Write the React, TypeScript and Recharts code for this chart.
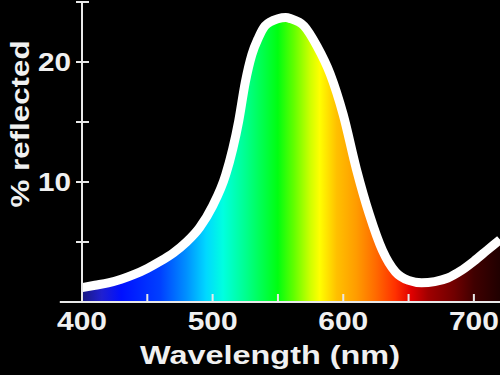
import { AreaChart, Area, XAxis, YAxis, ReferenceLine } from "recharts"

const wavelengths = [
    400, 410, 420, 430, 440, 450, 460, 470, 480, 490, 500, 510, 520, 525, 530, 535, 540, 550,
    556, 560, 570, 580, 590, 600, 610, 620, 630, 640, 650, 660, 670, 680, 690, 700, 710, 720,
]
const reflected = [
    1.2, 1.4, 1.6, 1.9, 2.3, 2.8, 3.4, 4.1, 5.0, 6.2, 8.0, 10.6, 15.1, 18.3, 20.6, 22.0, 23.0, 23.6,
    23.7, 23.6, 23.0, 21.3, 19.0, 15.6, 11.1, 7.3, 4.3, 2.5, 1.8, 1.6, 1.7, 2.0, 2.6, 3.4, 4.3, 5.2,
]
const xTicks = [400, 450, 500, 550, 600, 650, 700]
const yTicks = [5, 10, 15, 20, 25]
const xLabels = [400, 500, 600, 700]
const yLabels = [10, 20]

// spectrum colours keyed by wavelength
const spectrum: [number, string][] = [
    [400, "#1a1a80"],
    [415, "#2020d0"],
    [430, "#0010ff"],
    [460, "#0040ff"],
    [480, "#0090ff"],
    [495, "#00d8ff"],
    [508, "#00ffe0"],
    [525, "#00ff90"],
    [550, "#00ff10"],
    [562, "#60ff00"],
    [575, "#d0ff00"],
    [582, "#ffff00"],
    [595, "#ffc000"],
    [610, "#ff9c00"],
    [625, "#ff6a00"],
    [640, "#ff3000"],
    [652, "#e00000"],
    [665, "#a00000"],
    [685, "#700000"],
    [700, "#400000"],
    [720, "#200000"],
]

const data = wavelengths.map((nm, i) => ({ nm, value: reflected[i] }))

const FONT = "'Liberation Sans', Arial, sans-serif"
const AXIS = "#e8e8e8"

function XTick(props: any) {
    const { x, y, payload } = props
    const v = payload.value
    return (
        <g>
            <line x1={x} x2={x} y1={y - 8} y2={y} stroke={AXIS} strokeWidth={2} />
            {xLabels.includes(v) && (
                <text
                    x={x}
                    y={y + 28}
                    textAnchor="middle"
                    fill="#f0f0f0"
                    fontFamily={FONT}
                    fontWeight="bold"
                    fontSize={25}
                    textLength={50}
                    lengthAdjust="spacingAndGlyphs"
                >
                    {v}
                </text>
            )}
        </g>
    )
}

function YTick(props: any) {
    const { x, y, payload } = props
    const v = payload.value
    return (
        <g>
            <line x1={x - 6} x2={x + 7} y1={y} y2={y} stroke={AXIS} strokeWidth={2} />
            {yLabels.includes(v) && (
                <text
                    x={x - 11}
                    y={y + 9}
                    textAnchor="end"
                    fill="#f0f0f0"
                    fontFamily={FONT}
                    fontWeight="bold"
                    fontSize={25}
                    textLength={33}
                    lengthAdjust="spacingAndGlyphs"
                >
                    {v}
                </text>
            )}
        </g>
    )
}

export default function App() {
    return (
        <div style={{ position: "fixed", left: 0, top: 0, width: 500, height: 375, background: "#000" }}>
            <AreaChart width={500} height={375} data={data} margin={{ top: 2, right: 0, left: 0, bottom: 0 }}>
                <defs>
                    <linearGradient id="spec" x1="0" y1="0" x2="1" y2="0">
                        {spectrum.map(([nm, c]) => (
                            <stop key={nm} offset={(nm - 400) / 320} stopColor={c} />
                        ))}
                    </linearGradient>
                </defs>
                <XAxis
                    dataKey="nm"
                    type="number"
                    domain={[400, 720]}
                    ticks={xTicks}
                    height={73}
                    axisLine={false}
                    tickLine={false}
                    tickSize={0}
                    tickMargin={0}
                    tick={<XTick />}
                    interval={0}
                />
                <YAxis
                    type="number"
                    domain={[0, 25]}
                    ticks={yTicks}
                    width={82}
                    axisLine={{ stroke: AXIS, strokeWidth: 2 }}
                    tickLine={false}
                    tickSize={0}
                    tickMargin={0}
                    tick={<YTick />}
                    interval={0}
                />
                <Area
                    type="monotone"
                    dataKey="value"
                    baseValue={0}
                    fill="url(#spec)"
                    fillOpacity={1}
                    stroke="#ffffff"
                    strokeWidth={9}
                    isAnimationActive={false}
                />
                <ReferenceLine
                    segment={[{ x: 383, y: 0 }, { x: 720, y: 0 }]}
                    stroke={AXIS}
                    strokeWidth={2}
                    ifOverflow="visible"
                />
            </AreaChart>
            <svg width={500} height={375} style={{ position: "absolute", left: 0, top: 0, pointerEvents: "none" }}>
                <text
                    x={270}
                    y={364}
                    textAnchor="middle"
                    fill="#f0f0f0"
                    fontFamily={FONT}
                    fontWeight="bold"
                    fontSize={25}
                    textLength={260}
                    lengthAdjust="spacingAndGlyphs"
                >
                    Wavelength (nm)
                </text>
                <text
                    x={29}
                    y={124}
                    transform="rotate(-90 29 124)"
                    textAnchor="middle"
                    fill="#f0f0f0"
                    fontFamily={FONT}
                    fontWeight="bold"
                    fontSize={25}
                    textLength={167}
                    lengthAdjust="spacingAndGlyphs"
                >
                    % reflected
                </text>
            </svg>
        </div>
    )
}
